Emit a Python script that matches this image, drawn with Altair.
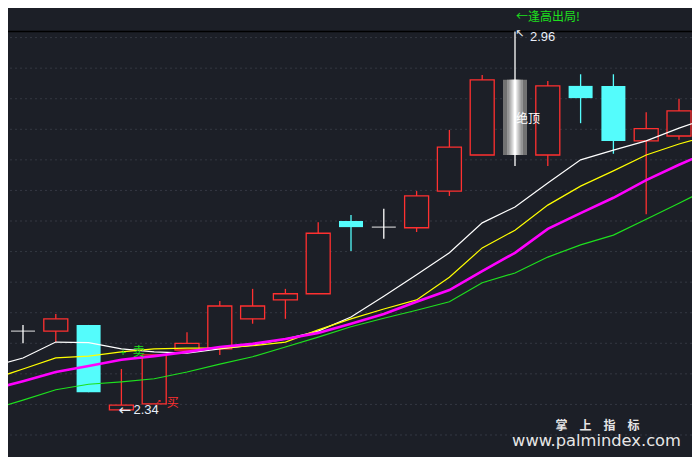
import altair as alt
import pandas as pd

# ---------------- data ----------------
idx = list(range(-1, 22))
kind = ["up", "doji", "up", "down", "up", "up", "up", "up", "up", "up", "up",
        "down", "doji", "up", "up", "up", "top", "up", "down", "down", "up", "up", "up"]
opens = [2.449, 2.470, 2.470, 2.480, 2.341, 2.351, 2.439, 2.441, 2.490, 2.521, 2.531,
         2.650, 2.640, 2.639, 2.699, 2.758, 2.758, 2.758, 2.871, 2.871, 2.781, 2.789, 2.820]
closes = [2.460, 2.470, 2.490, 2.370, 2.349, 2.431, 2.450, 2.511, 2.511, 2.531, 2.630,
          2.640, 2.640, 2.691, 2.771, 2.881, 2.881, 2.871, 2.851, 2.781, 2.801, 2.830, 2.830]
highs = [2.460, 2.480, 2.498, 2.480, 2.408, 2.431, 2.468, 2.519, 2.539, 2.539, 2.648,
         2.660, 2.670, 2.699, 2.799, 2.889, 2.960, 2.879, 2.890, 2.890, 2.828, 2.850, 2.840]
lows = [2.449, 2.450, 2.452, 2.370, 2.341, 2.351, 2.439, 2.431, 2.482, 2.490, 2.531,
        2.601, 2.621, 2.632, 2.691, 2.758, 2.740, 2.740, 2.810, 2.760, 2.661, 2.783, 2.815]

ma_white = [2.411, 2.426, 2.452, 2.451, 2.441, 2.436, 2.434, 2.441, 2.447, 2.457, 2.470,
            2.493, 2.527, 2.562, 2.598, 2.647, 2.673, 2.712, 2.750, 2.766, 2.781, 2.802, 2.820]
ma_yellow = [2.390, 2.408, 2.426, 2.429, 2.436, 2.441, 2.442, 2.442, 2.446, 2.452, 2.472,
             2.490, 2.506, 2.521, 2.558, 2.606, 2.635, 2.676, 2.707, 2.732, 2.758, 2.776, 2.791]
ma_magenta = [2.374, 2.388, 2.403, 2.413, 2.423, 2.429, 2.436, 2.444, 2.449, 2.457, 2.467,
              2.482, 2.498, 2.518, 2.537, 2.568, 2.598, 2.637, 2.663, 2.688, 2.717, 2.742, 2.765]
ma_green = [2.341, 2.357, 2.374, 2.383, 2.387, 2.392, 2.403, 2.416, 2.428, 2.444, 2.460,
            2.477, 2.491, 2.504, 2.518, 2.549, 2.565, 2.591, 2.611, 2.627, 2.653, 2.679, 2.706]

grid_levels = [2.30, 2.35, 2.40, 2.45, 2.50, 2.55, 2.60, 2.65, 2.70, 2.75, 2.80, 2.85, 2.90, 2.95, 3.00]
peak_price = [2.96]

# ---------------- styles ----------------
BG = "#1c1f27"
GRID = "#343842"
RED = "#ff3030"
CYAN = "#54fcfc"
GREEN = "#1ee01e"

df = pd.DataFrame({"i": idx, "kind": kind, "open": opens, "close": closes,
                   "high": highs, "low": lows})
ma = pd.DataFrame({"i": idx, "w": ma_white, "yl": ma_yellow, "m": ma_magenta, "g": ma_green})

xs = alt.Scale(domain=[-0.4573, 20.3963], nice=False, zero=False, padding=0)
ys = alt.Scale(domain=[2.2640, 2.9984], nice=False, zero=False, padding=0)
X = alt.X("i:Q", scale=xs, axis=None)

def Y(field):
    return alt.Y(field, scale=ys, axis=None)

layers = []

# grid
layers.append(alt.Chart(pd.DataFrame({"lv": grid_levels})).mark_rule(
    color=GRID, strokeDash=[2, 3], strokeWidth=1).encode(y=Y("lv:Q")))

# black peak line
layers.append(alt.Chart(pd.DataFrame({"lv": peak_price})).mark_rule(
    color="#000000", strokeWidth=1.5).encode(y=Y("lv:Q")))

base = alt.Chart(df)

# wicks
layers.append(base.transform_filter(alt.datum.kind != "top").mark_rule(
    strokeWidth=1.3, clip=True).encode(
    X, y=Y("low:Q"), y2="high:Q",
    color=alt.Color("kind:N", scale=alt.Scale(domain=["up", "down", "doji"],
                                              range=[RED, CYAN, "#ffffff"]), legend=None)))

# up bodies (hollow red)
layers.append(base.transform_filter(alt.datum.kind == "up").mark_bar(
    size=24, fill=BG, stroke=RED, strokeWidth=1.3, orient="vertical", clip=True).encode(
    X, y=Y("open:Q"), y2="close:Q"))

# down bodies (filled cyan)
layers.append(base.transform_filter(alt.datum.kind == "down").mark_bar(
    size=24, color=CYAN, orient="vertical", clip=True).encode(
    X, y=Y("open:Q"), y2="close:Q"))

# doji crosses
layers.append(base.transform_filter(alt.datum.kind == "doji").mark_tick(
    orient="horizontal", size=24, thickness=1.3, color="#ffffff", clip=True).encode(
    X, y=Y("close:Q")))

# special top candle: grey gradient stripes
for w, c in [(24, "#727272"), (16, "#959595"), (11, "#b6b6b6"), (7, "#d8d8d8"), (3, "#ffffff")]:
    layers.append(base.transform_filter(alt.datum.kind == "top").mark_bar(
        size=w, color=c, orient="vertical", clip=True).encode(
        X, y=Y("open:Q"), y2="close:Q"))
layers.append(base.transform_filter(alt.datum.kind == "top").mark_rule(
    strokeWidth=1.3, color="#ffffff", clip=True).encode(X, y=Y("low:Q"), y2="high:Q"))

# moving averages
mab = alt.Chart(ma)
layers.append(mab.mark_line(color="#ffffff", strokeWidth=1.2, clip=True).encode(X, y=Y("w:Q")))
layers.append(mab.mark_line(color="#ffff00", strokeWidth=1.2, clip=True).encode(X, y=Y("yl:Q")))
layers.append(mab.mark_line(color="#ff00ff", strokeWidth=2.6, clip=True).encode(X, y=Y("m:Q")))
layers.append(mab.mark_line(color=GREEN, strokeWidth=1.2, clip=True).encode(X, y=Y("g:Q")))


def note(text, i, price, color, size, dx=0, dy=0, align="left", font="Noto Sans CJK SC",
         weight="normal", baseline="middle"):
    d = pd.DataFrame({"i": [i], "p": [price], "t": [text]})
    return alt.Chart(d).mark_text(color=color, fontSize=size, dx=dx, dy=dy, align=align,
                                  baseline=baseline, font=font, fontWeight=weight).encode(
        X, y=Y("p:Q"), text="t:N")


CJK = "Noto Sans CJK SC"
layers.append(note("←逢高出局!", 15, 2.990, GREEN, 12, dx=1, dy=3.5))
layers.append(note("↖", 15, 2.960, "#e8eef8", 11, dx=0, dy=3, font="DejaVu Sans"))
layers.append(note("2.96", 15, 2.960, "#e8eef8", 13, dx=15, dy=5.5, font="Liberation Sans"))
layers.append(note("←", 3, 2.341, "#e8eef8", 15, dx=-3, font="DejaVu Sans"))
layers.append(note("2.34", 3, 2.341, "#e8eef8", 13, dx=12, font="Liberation Sans"))
layers.append(note("绝顶", 15, 2.817, "#ffffff", 12, dx=13, align="center"))
layers.append(note("+", 3, 2.4357, GREEN, 9, dx=1.5, align="center", font="DejaVu Sans"))
layers.append(note("卖", 4, 2.4357, GREEN, 12, dx=-15.5, align="center"))
layers.append(note("↗", 4, 2.3523, RED, 7, dx=4, dy=-1, align="center", font="DejaVu Sans"))
layers.append(note("买", 4, 2.3523, RED, 12, dx=18.5, align="center"))

# watermark
wm = alt.Chart(pd.DataFrame({"t": ["掌\u3000上\u3000指\u3000标"]})).mark_text(
    color="#e6e6e6", fontSize=12, fontWeight="bold", font=CJK, align="center",
    baseline="middle").encode(x=alt.value(589.5), y=alt.value(418), text="t:N")
wm2 = alt.Chart(pd.DataFrame({"t": ["www.palmindex.com"]})).mark_text(
    color="#e6e6e6", fontSize=16.3, font="DejaVu Sans", align="center",
    baseline="alphabetic").encode(x=alt.value(588.5), y=alt.value(437.5), text="t:N")
layers += [wm, wm2]

chart = alt.layer(*layers).properties(
    width=684, height=449, background=BG, padding=0,
    autosize=alt.AutoSizeParams(type="none")
).configure_view(strokeWidth=0, fill=BG)

chart.save("out.html", embed_options={"renderer": "svg", "actions": False})
